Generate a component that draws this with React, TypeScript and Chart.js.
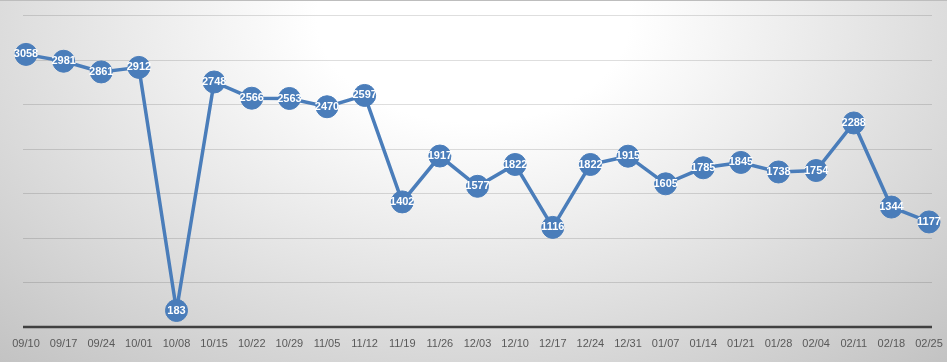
import React, { useEffect, useRef } from "react";
import { Chart, registerables } from "chart.js";

Chart.register(...registerables);

const categories = [
  "09/10", "09/17", "09/24", "10/01", "10/08", "10/15", "10/22", "10/29", "11/05",
  "11/12", "11/19", "11/26", "12/03", "12/10", "12/17", "12/24", "12/31", "01/07",
  "01/14", "01/21", "01/28", "02/04", "02/11", "02/18", "02/25",
];

const values = [
  3058, 2981, 2861, 2912, 183, 2748, 2566, 2563, 2470, 2597, 1402, 1917, 1577,
  1822, 1116, 1822, 1915, 1605, 1785, 1845, 1738, 1754, 2288, 1344, 1177,
];

const gridValues = [500, 1000, 1500, 2000, 2500, 3000, 3500];
const yMin = 0;
const yMax = 3500;

const BLUE = "#4a7dba";

const gridPlugin = {
  id: "customGrid",
  beforeDatasetsDraw(chart: any) {
    const { ctx, scales } = chart;
    const y = scales.y;
    const left = chart.chartArea.left - 3;
    const right = chart.chartArea.right + 3;
    ctx.save();
    ctx.lineWidth = 1;
    ctx.strokeStyle = "rgba(0,0,0,0.13)";
    gridValues.forEach((v) => {
      const py = Math.round(y.getPixelForValue(v)) + 0.5;
      ctx.beginPath();
      ctx.moveTo(left, py);
      ctx.lineTo(right, py);
      ctx.stroke();
    });
    const by = Math.round(y.getPixelForValue(0));
    ctx.strokeStyle = "#404040";
    ctx.lineWidth = 2.5;
    ctx.beginPath();
    ctx.moveTo(left, by);
    ctx.lineTo(right, by);
    ctx.stroke();
    ctx.restore();
  },
};

const labelPlugin = {
  id: "pointLabels",
  afterDatasetsDraw(chart: any) {
    const { ctx } = chart;
    const meta = chart.getDatasetMeta(0);
    const data = chart.data.datasets[0].data as number[];
    ctx.save();
    ctx.fillStyle = "#ffffff";
    ctx.font = "bold 11px 'Liberation Sans', Arial, sans-serif";
    ctx.textAlign = "center";
    ctx.textBaseline = "middle";
    meta.data.forEach((pt: any, i: number) => {
      ctx.fillText(String(data[i]), pt.x, pt.y);
    });
    ctx.restore();
  },
};

export default function App() {
  const ref = useRef<HTMLCanvasElement>(null);

  useEffect(() => {
    if (!ref.current) return;
    const chart = new Chart(ref.current, {
      type: "line",
      data: {
        labels: categories,
        datasets: [
          {
            data: values,
            borderColor: BLUE,
            backgroundColor: BLUE,
            borderWidth: 3.5,
            pointRadius: 11,
            pointHoverRadius: 11,
            pointBackgroundColor: BLUE,
            pointBorderColor: BLUE,
            pointBorderWidth: 1,
            tension: 0,
            fill: false,
          },
        ],
      },
      options: {
        responsive: false,
        animation: false,
        events: [],
        layout: { padding: { left: 26, right: 18, top: 14, bottom: 0 } },
        plugins: {
          legend: { display: false },
          tooltip: { enabled: false },
        },
        scales: {
          x: {
            offset: false,
            grid: { display: false, drawTicks: false },
            border: { display: false },
            afterFit: (s: any) => {
              s.paddingLeft = 0;
              s.paddingRight = 0;
            },
            ticks: {
              color: "#595959",
              font: { family: "'Liberation Sans', Arial, sans-serif", size: 11 },
              padding: 11,
              maxRotation: 0,
              autoSkip: false,
            },
          },
          y: {
            display: false,
            min: yMin,
            max: yMax,
            ticks: { stepSize: 500 },
          },
        },
      },
      plugins: [gridPlugin, labelPlugin],
    });
    return () => chart.destroy();
  }, []);

  return (
    <div
      style={{
        position: "fixed",
        left: 0,
        top: 0,
        width: 947,
        height: 362,
        boxSizing: "border-box",
        borderTop: "1px solid #bdbdbd",
        background:
          "radial-gradient(ellipse 75% 130% at 50% 5%, #ffffff 0%, #ffffff 22%, #c2c2c2 100%)",
      }}
    >
      <canvas ref={ref} width={947} height={361} style={{ display: "block" }} />
    </div>
  );
}
